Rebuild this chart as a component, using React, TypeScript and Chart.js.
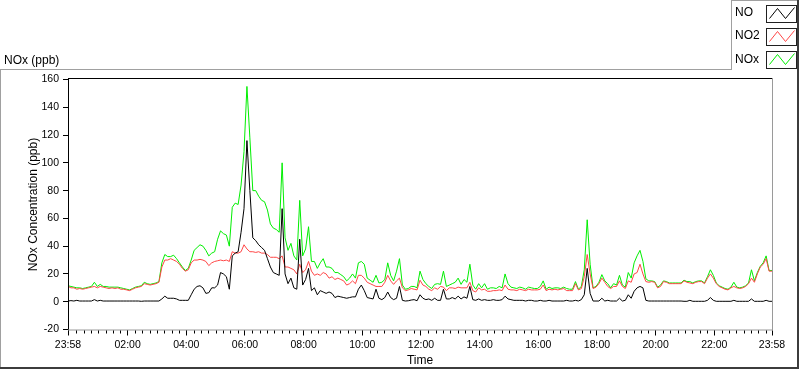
import { useEffect, useRef } from "react";
import { Chart, registerables } from "chart.js";

Chart.register(...registerables);

// Sampling interval of the series (minutes after 23:58 of previous day)
const STEP_MIN = 6;

// Major tick positions (minutes after 23:58) and their labels
const tickMinutes = [0, 122, 242, 362, 482, 602, 722, 842, 962, 1082, 1202, 1322, 1440];
const tickLabels = ["23:58", "02:00", "04:00", "06:00", "08:00", "10:00", "12:00", "14:00", "16:00", "18:00", "20:00", "22:00", "23:58"];

const seriesNames = ["NO", "NO2", "NOx"];

// NO (ppb)
const noValues = [
  0.5, 0.8, 0.5, 1, 0.5, 0.5, 0.5, 0.5, 0.5, 1.5,
  0.5, 1, 0.5, 0.5, 0.5, 0.5, 0.5, 0.5, 0.5, 0.5,
  0.5, 0.5, 0.5, 0.5, 0.5, 0.3, 0.5, 0.5, 0.5, 0.5,
  0.5, 0.5, 2, 4, 2.5, 2.5, 2.5, 2, 1, 1,
  1, 1, 5, 9, 11, 11.5, 10, 6, 6.5, 10,
  10, 12, 21, 20, 18, 9, 33, 35, 36, 50,
  67, 116, 80, 46, 44, 41, 39, 37, 31, 25,
  21, 20, 19, 67, 20, 13, 17, 10, 9, 45,
  12, 16, 24, 8, 10, 5, 8, 7, 6, 7,
  6, 3, 4, 3.5, 3, 2.5, 3, 3.5, 3.5, 9,
  12, 8, 3, 2.5, 2, 9, 2.5, 1.5, 3, 7,
  3, 1.5, 2.5, 11, 1, 0.5, 0.7, 1.2, 1.5, 0.7,
  5, 2.5, 1.5, 2, 1, 2.5, 1, 1, 9, 2,
  2, 3, 2, 4, 2, 3.5, 2.5, 11, 1.5, 1,
  2, 1, 1.5, 1, 1, 1.5, 1, 1, 1.5, 4,
  2, 1.5, 1, 1, 1, 1, 0.5, 1, 1, 0.5,
  0.5, 1, 0.5, 0.5, 1, 0.5, 0.5, 0.5, 0.5, 0.5,
  1, 0.5, 0.5, 1, 0.5, 1.5, 5, 24, 6, 0.5,
  0.5, 0.5, 2.5, 0.5, 1, 0.5, 0.5, 0.5, 2.5, 0.5,
  1, 5, 2.5, 7.5, 10, 11, 10, 1, 0.5, 0.5,
  0.5, 0.5, 0.5, 0.5, 0.5, 0.5, 0.5, 0.5, 0.5, 0.5,
  0.3, 0.3, 1, 0.3, 0.3, 0.3, 0.3, 0.3, 1, 3,
  1, 0.3, 0.3, 0.3, 0.3, 0.3, 0.3, 1, 0.3, 0.3,
  0.3, 0.3, 0.3, 2, 0.3, 0.3, 0.3, 0.3, 1, 0.3,
  0.3,
];

// NO2 (ppb)
const no2Values = [
  11, 10, 10, 9, 9.5, 9, 9.5, 10, 10.5, 11,
  10, 11, 10.5, 10, 9.5, 10, 9.5, 10, 9, 9,
  8.5, 8, 9, 10, 10.5, 11, 13, 12.5, 12, 12.5,
  13, 14, 25, 30, 30, 31, 30, 29, 27, 24,
  22, 23, 28, 30, 30, 30.5, 30, 29, 26, 28,
  29, 29.5, 30, 29.5, 30, 29, 36, 35, 35, 36,
  41, 38, 36, 36, 35.5, 36, 35, 35, 34, 32,
  32, 32, 31, 33, 25, 25, 24, 23, 20, 27,
  21, 23, 29, 22, 19, 20, 19, 21, 20, 17,
  18, 16, 17, 16, 15, 12, 13, 15, 13, 19,
  19, 17, 14, 13, 12, 11, 11, 11, 14, 19,
  15, 12.5, 15, 17, 10, 8, 8.5, 9.5, 9, 8.5,
  15.5, 12, 11, 9, 8, 10, 9, 11, 10.5, 8,
  10, 10, 9.5, 10.5, 10, 10, 10, 14, 8, 7,
  10, 8.5, 9, 7.5, 7.5, 8, 8, 8.5, 8, 12,
  9, 8.5, 8.5, 8, 9, 8.5, 8, 9, 8.5, 8.5,
  8.5, 9, 12, 8, 9, 8.5, 9, 8.5, 9, 9.5,
  8, 8, 8, 13, 8.5, 9.5, 18, 34, 20, 9.5,
  10.5, 13, 17, 14, 11, 9.5, 11, 11, 15, 11,
  9.5, 15, 14, 20, 21, 27, 20, 14.5, 14, 14.5,
  14, 10, 11, 14.5, 14, 13, 13, 13, 13, 13,
  15, 14, 13.5, 13, 14, 14.5, 14.5, 13, 17, 20,
  17, 13, 11, 10, 9, 8.5, 10, 11, 10, 9.5,
  10, 11, 13, 17, 14, 20, 25, 27, 31, 22,
  22,
];

// NOx (ppb)
const noxValues = [
  11.5, 11, 10.5, 10, 10, 9.5, 10, 10.5, 11, 14,
  11, 12.5, 11, 11, 10.5, 10.5, 10.5, 10.5, 10, 9.5,
  9, 8.5, 9.5, 10.5, 11, 11.5, 14, 13, 12.5, 13,
  13.5, 14.5, 28, 34, 32.5, 32.5, 33.5, 31, 28, 25,
  22.5, 24, 30, 37, 39, 41, 40, 37, 33, 35,
  36, 45, 51, 49, 48, 40, 68, 71, 70, 84,
  108, 155, 118, 80, 80, 76, 73, 72, 66, 56,
  53, 52, 50, 100, 46, 37, 42, 33, 30, 73,
  33, 38, 54, 29, 29, 24, 28, 31, 25, 25,
  24, 21, 21, 19.5, 18, 15, 17, 20, 17, 28,
  29, 27, 17, 15.5, 14, 19, 13.5, 14, 16, 28,
  19, 15, 22, 31, 12, 9, 9.5, 11, 11, 10,
  22, 16, 13, 11, 9.5, 12.5, 13, 12.5, 22, 11,
  12, 13, 14, 17, 12.5, 16, 14, 27, 12, 9,
  13, 10, 13, 9, 10, 10, 9.5, 11, 10, 20,
  13, 10.5, 10, 9.5, 10.5, 10, 9, 10.5, 10, 9.5,
  9.5, 11, 15, 9, 10.5, 9.5, 10, 10, 9.5, 10.5,
  9.5, 9, 9, 14.5, 9, 11, 23, 59, 27, 10,
  11, 14, 19.5, 15, 13, 10, 13, 12, 19, 12,
  10.5, 21, 17, 28, 33, 37, 29, 16.5, 15, 15,
  14.5, 10.5, 12, 15, 14.5, 13.5, 13.5, 13.5, 13.5, 13.5,
  15.5, 14.5, 14.5, 13.5, 14.5, 15, 15, 13.5, 18, 23,
  19, 13.5, 11.5, 10.5, 9.5, 9, 10.5, 14, 10.5, 10,
  10.5, 11.5, 13.5, 23, 15, 21, 25.5, 28, 33, 22.5,
  22.5,
];

const seriesColors = ["#000000", "#ff4646", "#00ee00"];

const FONT = "'Liberation Sans', Arial, sans-serif";

function toPoints(values: number[]) {
  return values.map((v, i) => ({ x: i * STEP_MIN, y: v }));
}

const decorPlugin = {
  id: "decor",
  beforeDraw(chart: any) {
    const { ctx, width, height } = chart;
    ctx.save();
    ctx.fillStyle = "#ffffff";
    ctx.fillRect(0, 0, width, height);
    ctx.restore();
  },
  afterDraw(chart: any) {
    const { ctx, chartArea: a, scales } = chart;
    ctx.save();
    // plot frame: sunken look
    ctx.fillStyle = "#000000";
    ctx.fillRect(a.left, a.top - 1.5, a.right - a.left + 1, 1);
    ctx.fillRect(a.left, a.top - 1.5, 1, a.bottom - a.top + 2);
    ctx.fillStyle = "#9a9a9a";
    ctx.fillRect(a.right, a.top - 1.5, 1, a.bottom - a.top + 2.5);
    ctx.fillRect(a.left, a.bottom, a.right - a.left + 1, 1);

    // minor ticks every 15 minutes
    const xs = scales.x;
    ctx.fillStyle = "#000000";
    for (let m = 17; m < 1440; m += 15) {
      if ((m - 2) % 120 === 0) continue;
      const px = Math.round(xs.getPixelForValue(m));
      ctx.fillRect(px, a.bottom + 1, 1, 3);
    }

    // outer frame
    ctx.fillStyle = "#a0a0a0";
    ctx.fillRect(0, 69, 731, 1);
    ctx.fillRect(0, 69, 1, 300);
    ctx.fillStyle = "#3c3c3c";
    ctx.fillRect(797, 69, 2, 300);
    ctx.fillRect(0, 367, 799, 2);

    // title
    ctx.fillStyle = "#000000";
    ctx.font = `12px ${FONT}`;
    ctx.textAlign = "left";
    ctx.textBaseline = "alphabetic";
    ctx.fillText("NOx (ppb)", 4, 63.5);

    // legend box
    ctx.fillStyle = "#a0a0a0";
    ctx.fillRect(731, 0, 1, 70);
    ctx.fillRect(731, 0, 68, 1);
    ctx.fillStyle = "#3c3c3c";
    ctx.fillRect(797, 0, 2, 70);

    const centers = [12.5, 35.5, 59];
    seriesNames.forEach((name, i) => {
      const cy = centers[i];
      ctx.fillStyle = "#000000";
      ctx.font = `12px ${FONT}`;
      ctx.textBaseline = "middle";
      ctx.fillText(name, 735, cy + 0.5);
      const bx = 766.5;
      const by = Math.round(cy - 8) + 0.5;
      ctx.strokeStyle = "#202020";
      ctx.lineWidth = 1;
      ctx.strokeRect(bx, by, 30, 17);
      ctx.strokeStyle = seriesColors[i];
      ctx.beginPath();
      ctx.moveTo(bx + 3, by + 13);
      ctx.lineTo(bx + 11, by + 3);
      ctx.lineTo(bx + 19, by + 13);
      ctx.lineTo(bx + 28, by + 2);
      ctx.stroke();
    });
    ctx.restore();
  },
};

export default function App() {
  const canvasRef = useRef<HTMLCanvasElement | null>(null);

  useEffect(() => {
    const canvas = canvasRef.current;
    if (!canvas) return;
    Chart.defaults.font.family = FONT;
    Chart.defaults.color = "#000000";

    const valueSets = [noValues, no2Values, noxValues];
    const chart = new Chart(canvas, {
      type: "line",
      data: {
        datasets: seriesNames.map((name, i) => ({
          label: name,
          data: toPoints(valueSets[i]),
          borderColor: seriesColors[i],
          backgroundColor: seriesColors[i],
          borderWidth: 1,
          pointRadius: 0,
          tension: 0,
          fill: false,
        })),
      },
      options: {
        responsive: false,
        animation: false,
        parsing: true,
        layout: { padding: { top: 79.5, right: 28, left: 0, bottom: 0 } },
        plugins: {
          legend: { display: false },
          tooltip: { enabled: false },
          title: { display: false },
        },
        scales: {
          x: {
            type: "linear",
            min: 0,
            max: 1440,
            afterBuildTicks: (s: any) => {
              s.ticks = tickMinutes.map((v) => ({ value: v }));
            },
            afterFit: (s: any) => {
              s.height = 39.5;
            },
            ticks: {
              autoSkip: false,
              maxRotation: 0,
              minRotation: 0,
              padding: 3,
              font: { size: 10.5, family: FONT },
              color: "#000000",
              callback: (v: any) => {
                const idx = tickMinutes.indexOf(Number(v));
                return idx >= 0 ? tickLabels[idx] : "";
              },
            },
            grid: {
              display: true,
              drawOnChartArea: false,
              drawTicks: true,
              tickLength: 6,
              tickColor: "#000000",
              tickWidth: 1,
              lineWidth: 1,
            },
            border: { display: false },
            title: {
              display: true,
              text: "Time",
              color: "#000000",
              font: { size: 12, family: FONT },
              padding: { top: 0, bottom: 1.5 },
            },
          },
          y: {
            type: "linear",
            min: -20,
            max: 160,
            afterFit: (s: any) => {
              s.width = 68;
            },
            ticks: {
              stepSize: 20,
              padding: 4,
              font: { size: 10.5, family: FONT },
              color: "#000000",
            },
            grid: {
              display: true,
              drawOnChartArea: false,
              drawTicks: true,
              tickLength: 5,
              tickColor: "#000000",
              tickWidth: 1,
              lineWidth: 1,
            },
            border: { display: false },
            title: {
              display: true,
              text: "NOx Concentration (ppb)",
              color: "#000000",
              font: { size: 12, family: FONT },
              padding: { top: 26, bottom: 0 },
            },
          },
        },
      },
      plugins: [decorPlugin],
    });
    return () => chart.destroy();
  }, []);

  return (
    <div style={{ position: "absolute", left: 0, top: 0, width: 800, height: 369 }}>
      <canvas ref={canvasRef} width={800} height={369} style={{ display: "block", width: 800, height: 369 }} />
    </div>
  );
}
